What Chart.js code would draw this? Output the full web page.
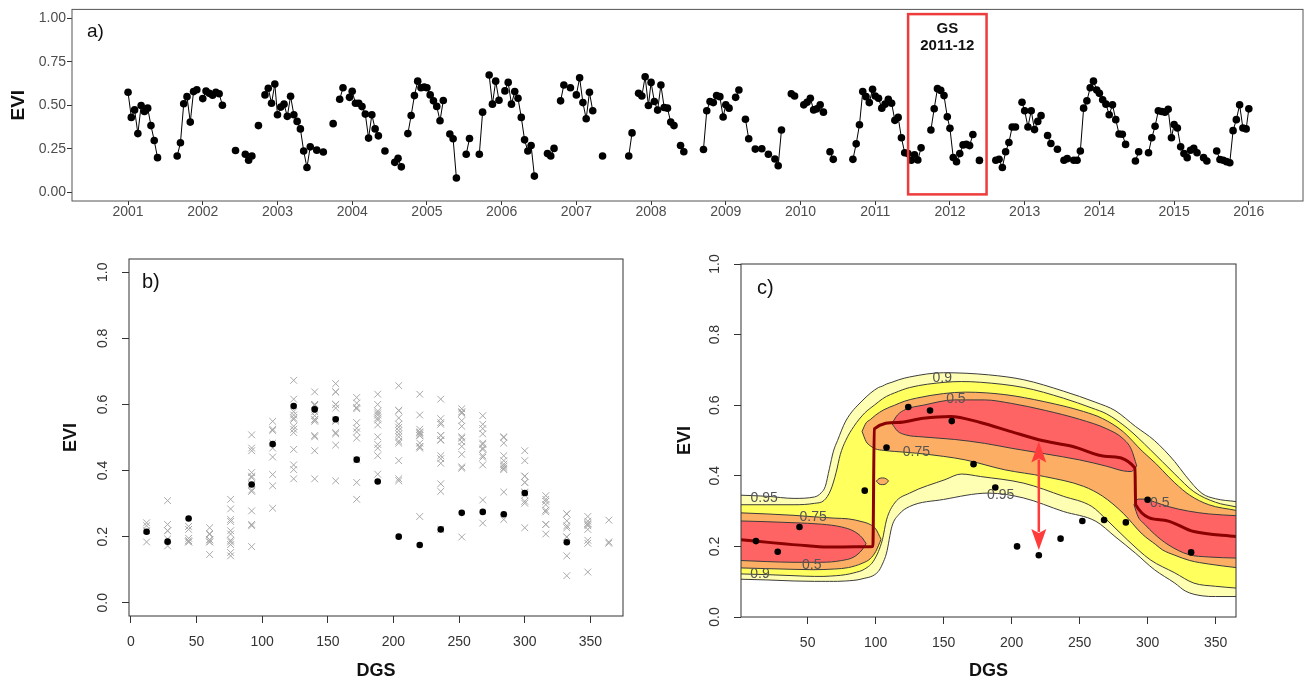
<!DOCTYPE html>
<html>
<head>
<meta charset="utf-8">
<script src="https://cdn.jsdelivr.net/npm/chart.js@4.4.1/dist/chart.umd.min.js"></script>
<style>
  html, body { margin: 0; padding: 0; background: #fff; }
  #wrap { position: relative; width: 1307px; height: 683px; overflow: hidden; background: #fff; }
  canvas { position: absolute; }
</style>
</head>
<body>
<div id="wrap">
  <canvas id="chartA" width="1307" height="230" style="left:0;top:0"></canvas>
  <canvas id="chartB" width="650" height="443" style="left:0;top:240px"></canvas>
  <canvas id="chartC" width="647" height="443" style="left:660px;top:240px"></canvas>
</div>
<script>
// 16-day composites: start day of year of each of the 23 images per year
const DOY = [1, 17, 33, 49, 65, 81, 97, 113, 129, 145, 161, 177, 193, 209, 225, 241, 257, 273, 289, 305, 321, 337, 353];

// EVI read off panel a), one value per composite (null = no image)
const EVI_2001 = [0.574, 0.430, 0.473, 0.337, 0.498, 0.464, 0.483, 0.383, 0.297, 0.199, null, null, null, null, null, 0.208, 0.284, 0.508, 0.549, 0.403, 0.578, 0.589, null];
const EVI_2002 = [0.538, 0.581, 0.568, 0.557, 0.574, 0.566, 0.500, null, null, null, 0.240, null, null, 0.218, 0.184, 0.208, null, 0.383, null, 0.559, 0.597, 0.511, 0.621];
const EVI_2003 = [0.445, 0.489, 0.506, 0.436, 0.551, 0.445, 0.407, 0.364, 0.237, 0.142, 0.261, null, 0.242, null, 0.231, null, null, 0.394, null, 0.534, 0.600, null, 0.545];
const EVI_2004 = [0.580, 0.511, 0.511, 0.492, 0.449, 0.311, 0.445, 0.364, 0.324, null, 0.237, null, null, 0.172, 0.195, 0.146, null, 0.337, 0.441, 0.555, 0.638, 0.600, 0.604];
const EVI_2005 = [0.600, 0.559, 0.525, 0.493, 0.411, 0.527, null, 0.335, 0.307, 0.082, null, null, 0.218, 0.309, null, null, 0.218, 0.460, null, 0.673, 0.506, 0.638, 0.528];
const EVI_2006 = [null, 0.582, 0.631, 0.506, 0.578, 0.540, 0.430, 0.301, 0.237, 0.269, 0.093, null, null, null, 0.222, 0.208, 0.252, null, 0.525, 0.616, null, 0.600, null];
const EVI_2007 = [0.559, 0.657, 0.515, 0.422, 0.574, 0.468, null, null, 0.208, null, null, null, null, null, null, null, 0.208, 0.341, null, 0.568, 0.553, 0.663, 0.498];
const EVI_2008 = [0.631, 0.521, 0.472, 0.616, 0.487, 0.483, 0.403, 0.383, null, 0.269, 0.233, null, null, null, null, null, 0.246, 0.468, 0.521, 0.515, 0.555, 0.549, 0.432];
const EVI_2009 = [0.502, 0.483, null, 0.545, 0.587, null, 0.419, 0.307, null, 0.248, null, 0.250, null, 0.218, null, 0.191, 0.152, 0.358, null, null, 0.566, 0.553, null];
const EVI_2010 = [null, 0.502, 0.517, 0.540, 0.473, 0.479, 0.502, 0.460, null, 0.233, 0.189, null, null, null, null, null, 0.189, 0.278, 0.388, 0.578, 0.549, 0.515, 0.591];
const EVI_2011 = [0.553, 0.540, 0.483, 0.506, 0.534, 0.511, 0.413, 0.430, 0.313, 0.227, 0.222, 0.184, 0.215, 0.185, 0.255, null, null, 0.358, 0.480, 0.595, 0.585, 0.555, 0.433];
const EVI_2012 = [0.367, 0.200, 0.175, 0.222, 0.272, 0.275, 0.268, 0.332, null, 0.183, null, null, null, null, 0.184, 0.190, 0.142, 0.233, 0.286, 0.375, 0.375, null, 0.517];
const EVI_2013 = [0.468, 0.375, 0.468, 0.360, 0.407, 0.440, null, 0.326, 0.280, null, 0.247, null, 0.184, 0.193, null, 0.184, 0.184, 0.237, 0.483, 0.525, 0.600, 0.638, 0.587];
const EVI_2014 = [0.568, 0.531, 0.506, 0.445, 0.502, 0.417, 0.335, 0.333, 0.275, null, null, 0.180, 0.233, null, null, 0.227, 0.313, 0.379, 0.468, 0.464, 0.460, 0.477, 0.313];
const EVI_2015 = [0.389, 0.369, 0.261, 0.222, 0.199, 0.241, 0.252, 0.227, null, 0.199, 0.180, null, null, 0.237, 0.188, 0.184, 0.176, 0.170, 0.354, 0.417, 0.502, 0.369, 0.364];
const EVI_2016 = [0.479];

const YEARS = [2001, 2002, 2003, 2004, 2005, 2006, 2007, 2008, 2009, 2010, 2011, 2012, 2013, 2014, 2015, 2016];
const SERIES = [EVI_2001, EVI_2002, EVI_2003, EVI_2004, EVI_2005, EVI_2006, EVI_2007, EVI_2008,
                EVI_2009, EVI_2010, EVI_2011, EVI_2012, EVI_2013, EVI_2014, EVI_2015, EVI_2016];

// day of growing season of each composite (season starts with composite 12)
const DGS = [12, 28, 44, 60, 76, 92, 108, 124, 140, 156, 172, 188, 204, 220, 236, 252, 268, 284, 300, 316, 332, 348, 364];
const GS_FIRST_COMPOSITE = 12;
const GS_YEAR = 2011;

// axis ticks
const A_X_TICKS = [2001, 2002, 2003, 2004, 2005, 2006, 2007, 2008, 2009, 2010, 2011, 2012, 2013, 2014, 2015, 2016];
const A_Y_TICKS = [0, 0.25, 0.5, 0.75, 1];
const B_X_TICKS = [0, 50, 100, 150, 200, 250, 300, 350];
const C_X_TICKS = [50, 100, 150, 200, 250, 300, 350];
const BC_Y_TICKS = [0, 0.2, 0.4, 0.6, 0.8, 1.0];

// GS 2011-12 frame in panel a)
const GS_BOX_FROM = 2011.44, GS_BOX_TO = 2012.49, GS_BOX_LOW = -0.012, GS_BOX_HIGH = 1.023;

// panel c) probability contours (DGS, lower / upper EVI of each region)
const Q95_X  = [1, 20, 40, 55, 60, 63, 66, 69, 72, 78, 90, 102, 105, 108, 112, 117, 125, 150, 183, 209, 238, 262, 276, 291, 305, 320, 328, 340, 350, 365];
const Q95_UP = [0.345, 0.342, 0.336, 0.340, 0.352, 0.370, 0.420, 0.470, 0.500, 0.555, 0.612, 0.650, 0.654, 0.660, 0.665, 0.672, 0.680, 0.692, 0.686, 0.672, 0.640, 0.608, 0.585, 0.540, 0.500, 0.440, 0.400, 0.350, 0.335, 0.327];
const Q95_LO = [0.107, 0.105, 0.102, 0.101, 0.101, 0.101, 0.101, 0.101, 0.101, 0.102, 0.108, 0.129, 0.150, 0.181, 0.257, 0.290, 0.313, 0.333, 0.351, 0.337, 0.299, 0.271, 0.228, 0.181, 0.134, 0.096, 0.073, 0.060, 0.058, 0.058];

const Q90_X  = [1, 20, 40, 55, 62, 67, 71, 74, 78, 84, 92, 99, 105, 108, 114, 125, 151, 163, 177, 209, 238, 259, 270, 285, 302, 320, 334, 350, 365];
const Q90_UP = [0.318, 0.318, 0.318, 0.322, 0.330, 0.360, 0.410, 0.460, 0.500, 0.540, 0.578, 0.600, 0.618, 0.625, 0.635, 0.650, 0.665, 0.667, 0.665, 0.650, 0.620, 0.592, 0.575, 0.535, 0.474, 0.405, 0.355, 0.325, 0.312];
const Q90_LO = [0.122, 0.120, 0.117, 0.115, 0.115, 0.116, 0.117, 0.118, 0.120, 0.125, 0.136, 0.162, 0.219, 0.275, 0.323, 0.351, 0.389, 0.405, 0.398, 0.379, 0.342, 0.313, 0.275, 0.219, 0.162, 0.125, 0.096, 0.087, 0.082];

const Q75A_X  = [1, 20, 40, 54, 70, 80, 90, 96, 100, 104];
const Q75A_UP = [0.295, 0.292, 0.288, 0.284, 0.280, 0.278, 0.270, 0.262, 0.250, 0.220];
const Q75A_LO = [0.139, 0.137, 0.135, 0.134, 0.136, 0.140, 0.152, 0.165, 0.185, 0.220];

const Q75B_X  = [90, 93, 96, 100, 106, 114, 121, 130, 150, 166, 195, 224, 253, 267, 282, 296, 306, 311, 320, 331, 345, 365];
const Q75B_UP = [0.526, 0.550, 0.559, 0.572, 0.587, 0.600, 0.611, 0.620, 0.633, 0.637, 0.630, 0.610, 0.582, 0.562, 0.525, 0.470, 0.435, 0.415, 0.380, 0.345, 0.318, 0.302];
const Q75B_LO = [0.526, 0.497, 0.485, 0.476, 0.472, 0.469, 0.467, 0.464, 0.455, 0.445, 0.417, 0.398, 0.370, 0.342, 0.294, 0.235, 0.205, 0.190, 0.175, 0.160, 0.150, 0.140];

const Q75C_X  = [100.5, 102.5, 105, 107.5, 109.5];
const Q75C_UP = [0.385, 0.392, 0.394, 0.392, 0.386];
const Q75C_LO = [0.385, 0.377, 0.375, 0.377, 0.386];

const Q50A_X  = [1, 20, 40, 60, 75, 84, 90, 93];
const Q50A_UP = [0.272, 0.270, 0.267, 0.263, 0.255, 0.243, 0.225, 0.208];
const Q50A_LO = [0.160, 0.157, 0.155, 0.155, 0.160, 0.170, 0.190, 0.208];

const Q50B_X  = [112, 116, 122, 135, 158, 180, 200, 225, 250, 270, 282, 288, 292];
const Q50B_UP = [0.548, 0.572, 0.588, 0.600, 0.615, 0.615, 0.605, 0.585, 0.560, 0.533, 0.505, 0.475, 0.428];
const Q50B_LO = [0.548, 0.527, 0.516, 0.510, 0.503, 0.492, 0.478, 0.462, 0.445, 0.427, 0.414, 0.412, 0.428];

const Q50C_X  = [290, 293, 298, 305, 315, 330, 345, 365];
const Q50C_UP = [0.318, 0.334, 0.334, 0.326, 0.313, 0.300, 0.292, 0.287];
const Q50C_LO = [0.318, 0.284, 0.262, 0.235, 0.205, 0.177, 0.170, 0.167];

// median curve of panel c)
const MEDIAN_X = [1, 25, 50, 67, 85, 98, 99, 116, 135, 155, 177, 199, 220, 245, 270, 290.7, 291.2, 311, 334, 365];
const MEDIAN_Y = [0.219, 0.210, 0.202, 0.198, 0.199, 0.200, 0.533, 0.551, 0.563, 0.568, 0.551, 0.526, 0.502, 0.483, 0.455, 0.422, 0.318, 0.275, 0.242, 0.228];

// contour labels (text, DGS, EVI)
const CONTOUR_LABELS = [
  ['0.95', 18, 0.336], ['0.75', 54, 0.284], ['0.5', 53, 0.146], ['0.9', 15, 0.121],
  ['0.9', 149, 0.677], ['0.5', 159, 0.617], ['0.75', 130, 0.467], ['0.95', 192, 0.346], ['0.5', 309, 0.322]
];

// deviation arrow at DGS 220
const ARROW_DGS = 220, ARROW_LOW = 0.19, ARROW_HIGH = 0.497;

// ---------------------------------------------------------------
const FONT = "'Liberation Sans', Arial, Helvetica, sans-serif";
const pts = (xs, ys) => xs.map((x, i) => ({x: x, y: ys[i]}));

// panel a) points
const seriesPoints = [];
YEARS.forEach((yr, i) => {
  SERIES[i].forEach((v, k) => seriesPoints.push({x: yr + (DOY[k] - 1) / 365, y: v}));
});

// panels b) and c): regroup the same images by day of growing season
const otherSeasons = [];
const gsSeason = [];
YEARS.forEach((yr, i) => {
  SERIES[i].forEach((v, k) => {
    if (v === null) return;
    const season = k >= GS_FIRST_COMPOSITE ? yr : yr - 1;
    const dgs = DGS[(k - GS_FIRST_COMPOSITE + DGS.length) % DGS.length];
    (season === GS_YEAR ? gsSeason : otherSeasons).push({x: dgs, y: v});
  });
});

// ---------------------------------------------------------------
const frame = {
  id: 'frame',
  afterDatasetsDraw(chart, args, o) {
    const {ctx, chartArea: a} = chart;
    ctx.save();
    ctx.strokeStyle = o.color;
    ctx.lineWidth = o.width;
    ctx.strokeRect(a.left, a.top, a.right - a.left, a.bottom - a.top);
    ctx.restore();
  }
};

const tag = {
  id: 'tag',
  afterDraw(chart, args, o) {
    const {ctx, chartArea: a} = chart;
    ctx.save();
    ctx.font = o.font;
    ctx.fillStyle = '#111';
    ctx.textBaseline = 'middle';
    ctx.fillText(o.text, a.left + o.dx, a.top + o.dy);
    ctx.restore();
  }
};

const gsBox = {
  id: 'gsBox',
  afterDatasetsDraw(chart) {
    const {ctx, scales: {x, y}} = chart;
    const l = x.getPixelForValue(GS_BOX_FROM), r = x.getPixelForValue(GS_BOX_TO);
    const t = y.getPixelForValue(GS_BOX_HIGH), b = y.getPixelForValue(GS_BOX_LOW);
    ctx.save();
    ctx.strokeStyle = '#EE3B3B';
    ctx.lineWidth = 2.5;
    ctx.strokeRect(l, t, r - l, b - t);
    ctx.fillStyle = '#111';
    ctx.font = 'bold 15px ' + FONT;
    ctx.textAlign = 'center';
    ctx.textBaseline = 'middle';
    ctx.fillText('GS', (l + r) / 2, t + 15);
    ctx.fillText('2011-12', (l + r) / 2, t + 32);
    ctx.restore();
  }
};

const contourText = {
  id: 'contourText',
  afterDatasetsDraw(chart) {
    const {ctx, scales: {x, y}} = chart;
    ctx.save();
    ctx.font = '14px ' + FONT;
    ctx.fillStyle = '#555';
    ctx.textAlign = 'center';
    ctx.textBaseline = 'middle';
    CONTOUR_LABELS.forEach(([t, d, e]) => ctx.fillText(t, x.getPixelForValue(d), y.getPixelForValue(e)));
    ctx.restore();
  }
};

const arrow = {
  id: 'arrow',
  afterDatasetsDraw(chart) {
    const {ctx, scales: {x, y}} = chart;
    const px = x.getPixelForValue(ARROW_DGS);
    const lo = y.getPixelForValue(ARROW_LOW), hi = y.getPixelForValue(ARROW_HIGH);
    const head = 21, half = 7.5;
    ctx.save();
    ctx.strokeStyle = ctx.fillStyle = '#FF3B3B';
    ctx.lineWidth = 2.5;
    ctx.beginPath();
    ctx.moveTo(px, hi + head - 3);
    ctx.lineTo(px, lo - head + 3);
    ctx.stroke();
    ctx.beginPath();
    ctx.moveTo(px, hi); ctx.lineTo(px - half, hi + head); ctx.lineTo(px, hi + head - 4); ctx.lineTo(px + half, hi + head);
    ctx.closePath(); ctx.fill();
    ctx.beginPath();
    ctx.moveTo(px, lo); ctx.lineTo(px - half, lo - head); ctx.lineTo(px, lo - head + 4); ctx.lineTo(px + half, lo - head);
    ctx.closePath(); ctx.fill();
    ctx.restore();
  }
};

function fixedTicks(list) {
  return s => { s.ticks = list.map(v => ({value: v})); };
}

// ---------------------------------------------------------------
// a) time series
new Chart(document.getElementById('chartA'), {
  type: 'line',
  data: {
    datasets: [{
      data: seriesPoints,
      borderColor: '#000',
      borderWidth: 1,
      pointRadius: 3.8,
      pointBackgroundColor: '#000',
      pointBorderWidth: 0,
      spanGaps: false,
      tension: 0
    }]
  },
  options: {
    responsive: false,
    animation: false,
    devicePixelRatio: 1,
    layout: {padding: {top: 7, right: 1, left: 0, bottom: 0}},
    plugins: {
      legend: {display: false},
      tooltip: {enabled: false},
      frame: {color: '#555', width: 1},
      tag: {text: 'a)', font: '19px ' + FONT, dx: 15, dy: 22}
    },
    scales: {
      x: {
        type: 'linear', min: 2000.25, max: 2016.725,
        afterBuildTicks: fixedTicks(A_X_TICKS),
        afterFit: s => { s.height = 29; },
        ticks: {color: '#4D4D4D', font: {family: FONT, size: 14, lineHeight: 1}, padding: 0, callback: v => String(v)},
        grid: {drawOnChartArea: false, tickLength: 4, tickColor: '#333'},
        border: {display: false}
      },
      y: {
        type: 'linear', min: -0.05, max: 1.05,
        afterBuildTicks: fixedTicks(A_Y_TICKS),
        afterFit: s => { s.width = 72; },
        ticks: {color: '#4D4D4D', font: {family: FONT, size: 14}, padding: 1, callback: v => v.toFixed(2)},
        grid: {drawOnChartArea: false, tickLength: 5, tickColor: '#333'},
        border: {display: false},
        title: {display: true, text: 'EVI', color: '#111', font: {family: FONT, size: 19, weight: 'bold', lineHeight: 1}, padding: {top: 9}}
      }
    }
  },
  plugins: [frame, tag, gsBox]
});

// shared axis setup for b) and c)
const BC_Y_MIN = {129: -0.04, 81: 0};
const BC_Y_MAX = {129: 1.04, 81: 1};
function rAxes(xmin, xmax, xTicks, yWidth, xHeight, yTitlePad) {
  return {
    x: {
      type: 'linear', min: xmin, max: xmax,
      afterBuildTicks: fixedTicks(xTicks),
      afterFit: s => { s.height = xHeight; },
      ticks: {color: '#333', font: {family: FONT, size: 14, lineHeight: 1}, padding: 12, callback: v => String(v)},
      grid: {drawOnChartArea: false, tickLength: 7, tickColor: '#333'},
      border: {display: false},
      title: {display: true, text: 'DGS', color: '#111', font: {family: FONT, size: 18, weight: 'bold', lineHeight: 1}, padding: {top: 0, bottom: 3}}
    },
    y: {
      type: 'linear', min: BC_Y_MIN[yWidth], max: BC_Y_MAX[yWidth],
      afterBuildTicks: fixedTicks(BC_Y_TICKS),
      afterFit: s => { s.width = yWidth; },
      ticks: {color: '#333', font: {family: FONT, size: 14}, padding: 9, minRotation: 90, maxRotation: 90, crossAlign: 'center', callback: v => v.toFixed(1)},
      grid: {drawOnChartArea: false, tickLength: 7, tickColor: '#333'},
      border: {display: false},
      title: {display: true, text: 'EVI', color: '#111', font: {family: FONT, size: 18, weight: 'bold', lineHeight: 1}, padding: {top: yTitlePad}}
    }
  };
}

// b) all seasons by DGS
new Chart(document.getElementById('chartB'), {
  type: 'line',
  data: {
    datasets: [
      {data: gsSeason, showLine: false, pointRadius: 3.3, pointBackgroundColor: '#000', pointBorderWidth: 0, order: 1},
      {data: otherSeasons, showLine: false, pointStyle: 'crossRot', pointRadius: 4.8, pointBorderColor: '#A8A8A8', pointBorderWidth: 1, order: 2}
    ]
  },
  options: {
    responsive: false,
    animation: false,
    devicePixelRatio: 1,
    layout: {padding: {top: 19, right: 27, left: 0, bottom: 0}},
    plugins: {
      legend: {display: false},
      tooltip: {enabled: false},
      frame: {color: '#333', width: 1},
      tag: {text: 'b)', font: '20px ' + FONT, dx: 13, dy: 23}
    },
    scales: rAxes(-1.4, 374.8, B_X_TICKS, 129, 67, 62)
  },
  plugins: [frame, tag]
});

// c) contour bands
const LINE = '#3C3C3C';
function band(xs, up, lo, color, order) {
  const common = {borderColor: LINE, borderWidth: 1, pointRadius: 0, cubicInterpolationMode: 'monotone', order: order};
  return [
    Object.assign({data: pts(xs, up), fill: false}, common),
    Object.assign({data: pts(xs, lo), fill: '-1', backgroundColor: color}, common)
  ];
}
const C_LIGHT = '#FFFFB3', C_YELLOW = '#FFFF5E', C_ORANGE = '#FCAE64', C_RED = '#FF6464';

new Chart(document.getElementById('chartC'), {
  type: 'line',
  data: {
    datasets: [
      {data: gsSeason, showLine: false, pointRadius: 3.3, pointBackgroundColor: '#000', pointBorderWidth: 0, order: 1},
      {data: pts(MEDIAN_X, MEDIAN_Y), borderColor: '#8B0000', borderWidth: 3, pointRadius: 0, cubicInterpolationMode: 'monotone', order: 2},
      ...band(Q50A_X, Q50A_UP, Q50A_LO, C_RED, 3),
      ...band(Q50B_X, Q50B_UP, Q50B_LO, C_RED, 3),
      ...band(Q50C_X, Q50C_UP, Q50C_LO, C_RED, 3),
      ...band(Q75A_X, Q75A_UP, Q75A_LO, C_ORANGE, 4),
      ...band(Q75B_X, Q75B_UP, Q75B_LO, C_ORANGE, 4),
      ...band(Q75C_X, Q75C_UP, Q75C_LO, C_ORANGE, 4),
      ...band(Q90_X, Q90_UP, Q90_LO, C_YELLOW, 5),
      ...band(Q95_X, Q95_UP, Q95_LO, C_LIGHT, 6)
    ]
  },
  options: {
    responsive: false,
    animation: false,
    devicePixelRatio: 1,
    layout: {padding: {top: 24, right: 71, left: 0, bottom: 0}},
    plugins: {
      legend: {display: false},
      tooltip: {enabled: false},
      frame: {color: '#333', width: 1},
      tag: {text: 'c)', font: '20px ' + FONT, dx: 16, dy: 24}
    },
    scales: rAxes(1, 365, C_X_TICKS, 81, 66, 16)
  },
  plugins: [contourText, arrow, frame, tag]
});
</script>
</body>
</html>
